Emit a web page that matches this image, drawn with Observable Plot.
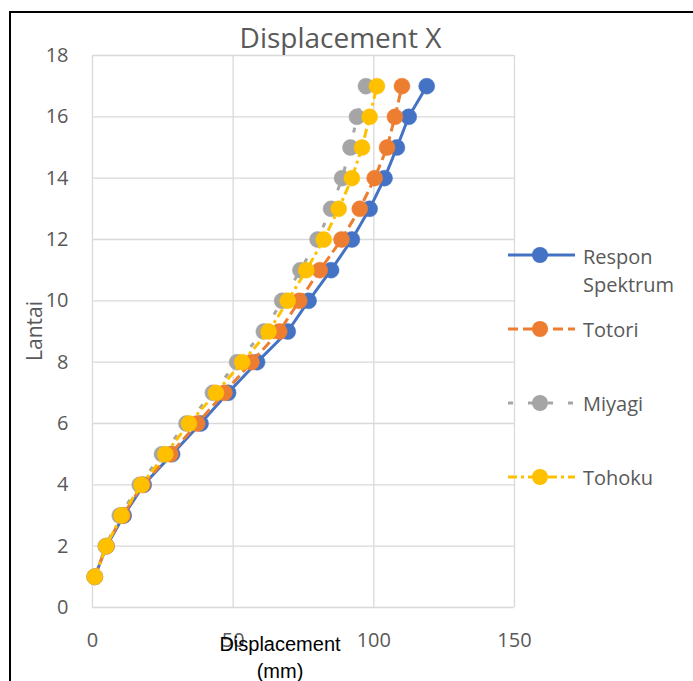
<!DOCTYPE html>
<html>
<head>
<meta charset="utf-8">
<script src="https://cdn.jsdelivr.net/npm/d3@7"></script>
<script src="https://cdn.jsdelivr.net/npm/@observablehq/plot@0.6"></script>
<style>
  html, body { margin: 0; padding: 0; background: #fff; overflow: hidden; }
  #wrap { position: relative; width: 693px; height: 681px; overflow: hidden; font-family: "Open Sans", sans-serif; }
  #border { position: absolute; left: 9px; top: 11px; width: 800px; height: 800px; border-left: 2px solid #000; border-top: 2px solid #000; box-sizing: border-box; }
  .abs { position: absolute; white-space: nowrap; }
</style>
</head>
<body>
<div id="wrap">
  <div id="border"></div>
  <div id="chart" class="abs" style="left:0;top:0;"></div>
  <div class="abs" id="title" style="left:340.5px;top:37px;transform:translate(-50%,-50%);font-size:28px;color:#595959;">Displacement X</div>
  <div class="abs" style="left:280px;top:658px;transform:translate(-50%,-50%);font-family:'Liberation Sans',Arial,sans-serif;font-size:20px;color:#000;text-align:center;line-height:27px;">Displacement<br>(mm)</div>
  <div class="abs" style="left:34px;top:331px;transform:translate(-50%,-50%) rotate(-90deg);font-size:21px;color:#595959;">Lantai</div>
  <svg id="legend" class="abs" style="left:0;top:0;" width="693" height="681"></svg>
</div>
<script>
const floors = [1,2,3,4,5,6,7,8,9,10,11,12,13,14,15,16,17];
const responSpektrum = [0.8,5.0,11.1,18.2,28.3,38.4,48.2,58.5,69.4,76.8,84.8,92.2,98.5,103.8,108.2,112.4,118.8];
const totori = [0.8,4.9,10.7,17.8,27.7,37.2,46.9,56.5,66.4,73.5,80.8,88.5,95.0,100.3,104.7,107.5,110.0];
const miyagi = [0.8,4.7,9.7,16.8,24.7,33.4,42.8,51.4,60.9,67.4,73.9,80.0,84.8,88.7,91.7,94.0,97.2];
const tohoku = [0.8,4.9,10.3,17.4,25.9,34.3,43.9,53.2,62.6,69.4,76.0,82.2,87.5,92.2,95.8,98.5,101.1];
const seriesNames = ["Respon Spektrum","Totori","Miyagi","Tohoku"];
const seriesColors = ["#4472C4","#ED7D31","#A5A5A5","#FFC000"];
const seriesDash = [null,"10,5","5,15","9,4,3,4"];
const seriesValues = [responSpektrum, totori, miyagi, tohoku];
const xTicks = [0,50,100,150];
const yTicks = [0,2,4,6,8,10,12,14,16,18];

const marks = [
  Plot.gridX(xTicks, {stroke:"#D9D9D9", strokeOpacity:1, strokeWidth:1.3}),
  Plot.gridY(yTicks, {stroke:"#D9D9D9", strokeOpacity:1, strokeWidth:1.3}),
  Plot.axisX(xTicks, {tickSize:0, tickPadding:25, label:null, fill:"#595959"}),
  Plot.axisY(yTicks, {tickSize:0, tickPadding:24, label:null, fill:"#595959"})
];
seriesValues.forEach((vals, i) => {
  const data = floors.map((f, j) => ({floor:f, disp:vals[j]}));
  marks.push(Plot.line(data, {x:"disp", y:"floor", stroke:seriesColors[i], strokeWidth:3, strokeDasharray:seriesDash[i], strokeLinecap:"butt"}));
  marks.push(Plot.dot(data, {x:"disp", y:"floor", r:8, fill:seriesColors[i], stroke:seriesColors[i], strokeWidth:0.5}));
});

const chart = Plot.plot({
  width: 693, height: 681,
  marginLeft: 92, marginRight: 179, marginTop: 55, marginBottom: 74,
  x: {domain:[0,150]},
  y: {domain:[0,18]},
  style: {fontSize:"20px", fontFamily:"'Open Sans', sans-serif", color:"#595959", background:"transparent", overflow:"visible"},
  marks
});
document.getElementById("chart").appendChild(chart);

const leg = d3.select("#legend");
const legY = [255, 329, 403, 477];
seriesNames.forEach((name, i) => {
  const g = leg.append("g");
  g.append("line").attr("x1",508).attr("x2",575).attr("y1",legY[i]).attr("y2",legY[i])
    .attr("stroke",seriesColors[i]).attr("stroke-width",3).attr("stroke-dasharray",seriesDash[i]);
  g.append("circle").attr("cx",540).attr("cy",legY[i]).attr("r",8).attr("fill",seriesColors[i]);
  const words = name === "Respon Spektrum" ? ["Respon","Spektrum"] : [name];
  const t = g.append("text").attr("x",583).attr("y",legY[i] + (i===0 ? 9 : 8.3))
    .attr("font-family","'Open Sans', sans-serif").attr("font-size",20).attr("fill","#595959");
  words.forEach((w, k) => t.append("tspan").attr("x",583).attr("dy", k===0?0:28).text(w));
});
</script>
</body>
</html>
